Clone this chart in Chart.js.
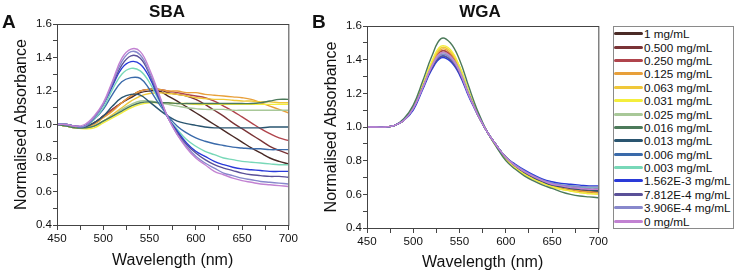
<!DOCTYPE html>
<html>
<head>
<meta charset="utf-8">
<script src="https://cdn.jsdelivr.net/npm/chart.js@4.4.0/dist/chart.umd.min.js"></script>
<style>
  html, body { margin: 0; padding: 0; background: #fff; }
  body { width: 734px; height: 274px; position: relative; overflow: hidden;
         font-family: "Liberation Sans", Arial, sans-serif; color: #111; }
  canvas { position: absolute; top: 0; }
  #cvA { left: 0; }
  #cvB { left: 300px; }
  .lbl { position: absolute; font-weight: bold; white-space: nowrap; line-height: 1; }
  .panel { font-size: 19px; top: 12px; }
  .ttl { font-size: 17px; top: 3px; transform: translateX(-50%); }
  #legend { position: absolute; left: 613px; top: 26px; width: 119px; height: 201px;
            border: 1px solid #8a8a8a; }
  .row { position: absolute; left: 0; height: 13.4px; display: flex; align-items: center; }
  .row i { display: block; width: 29px; height: 3px; border-radius: 1.5px; }
  .row span { font-size: 11.7px; margin-left: 1px; white-space: nowrap; }
</style>
</head>
<body>
<canvas id="cvA" width="300" height="274"></canvas>
<canvas id="cvB" width="310" height="274"></canvas>
<div class="lbl panel" style="left:2px">A</div>
<div class="lbl panel" style="left:312px">B</div>
<div class="lbl ttl" style="left:167px">SBA</div>
<div class="lbl ttl" style="left:480px">WGA</div>
<div id="legend"></div>

<script>

const wavelengths = [450, 460, 470, 480, 490, 500, 510, 520, 530, 540, 550, 560, 570,
                     580, 590, 600, 610, 620, 630, 640, 650, 660, 670, 680, 690, 700];

const concentrations = ["1 mg/mL", "0.500 mg/mL", "0.250 mg/mL", "0.125 mg/mL", "0.063 mg/mL",
  "0.031 mg/mL", "0.025 mg/mL", "0.016 mg/mL", "0.013 mg/mL", "0.006 mg/mL", "0.003 mg/mL",
  "1.562E-3 mg/mL", "7.812E-4 mg/mL", "3.906E-4 mg/mL", "0 mg/mL"];

const colors = ["#4a2a26", "#7a3336", "#b0444c", "#e8a03a", "#f0c83a", "#f4ee3c", "#a8c898",
  "#4c7a5a", "#2a5570", "#3a6aaa", "#78d8b8", "#2a3ad8", "#5a5098", "#8888cc", "#c282d2"];

// SBA: una riga per concentrazione, stesso ordine della legenda
const sbaValues = [
  [1.00,0.99,0.985,0.985,1.01,1.05,1.09,1.13,1.16,1.19,1.20,1.20,1.17,1.14,1.105,1.07,1.035,1.00,0.965,0.93,0.895,0.86,0.83,0.80,0.78,0.765],
  [1.00,0.99,0.985,0.985,1.01,1.05,1.09,1.13,1.17,1.20,1.21,1.21,1.19,1.18,1.17,1.15,1.12,1.085,1.05,1.01,0.975,0.94,0.905,0.87,0.845,0.825],
  [1.00,0.99,0.985,0.985,1.01,1.05,1.09,1.13,1.17,1.20,1.21,1.21,1.20,1.19,1.18,1.17,1.16,1.14,1.11,1.08,1.045,1.01,0.975,0.945,0.92,0.905],
  [1.00,0.99,0.98,0.98,1.00,1.04,1.08,1.13,1.17,1.20,1.21,1.21,1.20,1.20,1.19,1.19,1.18,1.175,1.17,1.165,1.16,1.15,1.13,1.11,1.09,1.07],
  [1.00,0.99,0.98,0.98,0.99,1.02,1.06,1.10,1.14,1.17,1.185,1.19,1.185,1.18,1.17,1.16,1.155,1.15,1.15,1.145,1.14,1.14,1.135,1.135,1.13,1.13],
  [1.00,0.99,0.98,0.975,0.98,1.01,1.04,1.07,1.10,1.12,1.13,1.13,1.13,1.125,1.125,1.12,1.12,1.12,1.12,1.12,1.12,1.12,1.12,1.12,1.12,1.12],
  [1.00,0.99,0.98,0.98,0.99,1.02,1.05,1.09,1.12,1.14,1.14,1.13,1.12,1.11,1.10,1.095,1.09,1.09,1.09,1.085,1.085,1.085,1.085,1.085,1.085,1.085],
  [1.00,0.99,0.98,0.98,0.99,1.02,1.05,1.08,1.11,1.13,1.135,1.13,1.13,1.125,1.125,1.125,1.125,1.125,1.125,1.125,1.125,1.125,1.13,1.14,1.15,1.15],
  [1.00,1.00,0.99,0.985,1.01,1.05,1.11,1.16,1.18,1.175,1.135,1.09,1.05,1.02,1.005,0.995,0.985,0.98,0.98,0.98,0.98,0.98,0.98,0.985,0.985,0.985],
  [1.00,1.00,0.99,0.99,1.03,1.09,1.18,1.255,1.28,1.275,1.21,1.125,1.05,0.99,0.95,0.92,0.90,0.885,0.875,0.865,0.86,0.855,0.855,0.85,0.85,0.85],
  [1.00,1.00,0.99,0.99,1.03,1.10,1.21,1.30,1.335,1.32,1.25,1.145,1.04,0.97,0.91,0.87,0.84,0.82,0.80,0.79,0.78,0.775,0.77,0.765,0.76,0.76],
  [1.00,1.00,0.99,0.99,1.04,1.12,1.23,1.335,1.375,1.36,1.28,1.155,1.04,0.96,0.89,0.84,0.81,0.78,0.76,0.745,0.735,0.73,0.725,0.72,0.72,0.72],
  [1.00,1.00,0.99,0.99,1.04,1.12,1.24,1.355,1.41,1.395,1.30,1.165,1.04,0.95,0.88,0.83,0.79,0.76,0.74,0.725,0.71,0.70,0.695,0.69,0.69,0.685],
  [1.00,1.00,0.99,0.99,1.04,1.12,1.25,1.375,1.435,1.415,1.31,1.175,1.04,0.94,0.87,0.81,0.77,0.74,0.71,0.695,0.68,0.67,0.66,0.655,0.65,0.645],
  [1.00,1.00,0.99,1.00,1.05,1.13,1.26,1.395,1.45,1.435,1.33,1.185,1.04,0.94,0.86,0.80,0.76,0.72,0.70,0.68,0.665,0.655,0.645,0.64,0.635,0.63],
];

// WGA: curve quasi sovrapposte
const wgaValues = [
  [1.00,1.00,1.00,1.01,1.04,1.11,1.23,1.36,1.44,1.42,1.33,1.19,1.07,0.97,0.89,0.82,0.77,0.73,0.70,0.675,0.655,0.64,0.63,0.62,0.615,0.61],
  [1.00,1.00,1.00,1.01,1.04,1.11,1.23,1.36,1.45,1.43,1.34,1.20,1.07,0.97,0.89,0.82,0.77,0.73,0.70,0.675,0.655,0.64,0.63,0.625,0.62,0.62],
  [1.00,1.00,1.00,1.01,1.04,1.11,1.23,1.36,1.45,1.43,1.34,1.20,1.07,0.97,0.89,0.82,0.77,0.73,0.70,0.675,0.655,0.64,0.63,0.62,0.615,0.61],
  [1.00,1.00,1.00,1.01,1.04,1.11,1.24,1.37,1.46,1.44,1.35,1.20,1.07,0.97,0.89,0.82,0.77,0.73,0.70,0.675,0.655,0.64,0.63,0.62,0.615,0.61],
  [1.00,1.00,1.00,1.01,1.04,1.11,1.24,1.38,1.47,1.45,1.36,1.21,1.08,0.97,0.89,0.81,0.76,0.72,0.69,0.665,0.645,0.63,0.62,0.61,0.605,0.60],
  [1.00,1.00,1.00,1.01,1.04,1.12,1.25,1.39,1.48,1.46,1.36,1.21,1.08,0.97,0.88,0.81,0.76,0.72,0.69,0.665,0.645,0.63,0.62,0.61,0.605,0.60],
  [1.00,1.00,1.00,1.01,1.04,1.11,1.23,1.36,1.44,1.42,1.34,1.20,1.07,0.97,0.89,0.82,0.77,0.735,0.705,0.68,0.66,0.65,0.64,0.635,0.63,0.63],
  [1.00,1.00,1.00,1.01,1.05,1.13,1.27,1.42,1.525,1.50,1.40,1.24,1.09,0.97,0.88,0.80,0.75,0.71,0.68,0.655,0.635,0.615,0.60,0.59,0.585,0.58],
  [1.00,1.00,1.00,1.01,1.04,1.11,1.23,1.35,1.42,1.40,1.32,1.19,1.07,0.97,0.89,0.82,0.77,0.73,0.70,0.675,0.655,0.645,0.635,0.63,0.625,0.62],
  [1.00,1.00,1.00,1.01,1.04,1.11,1.23,1.35,1.42,1.40,1.32,1.19,1.07,0.97,0.89,0.82,0.775,0.74,0.71,0.685,0.665,0.655,0.65,0.645,0.64,0.64],
  [1.00,1.00,1.00,1.01,1.04,1.11,1.23,1.36,1.43,1.41,1.32,1.19,1.07,0.97,0.89,0.82,0.775,0.74,0.71,0.685,0.665,0.655,0.65,0.645,0.64,0.64],
  [1.00,1.00,1.00,1.01,1.04,1.10,1.22,1.34,1.41,1.39,1.31,1.18,1.07,0.97,0.89,0.82,0.78,0.745,0.715,0.69,0.675,0.665,0.66,0.655,0.65,0.65],
  [1.00,1.00,1.00,1.01,1.04,1.11,1.23,1.35,1.42,1.40,1.32,1.19,1.07,0.97,0.89,0.82,0.77,0.735,0.705,0.68,0.66,0.65,0.64,0.635,0.63,0.63],
  [1.00,1.00,1.00,1.01,1.04,1.11,1.23,1.36,1.43,1.41,1.33,1.19,1.07,0.97,0.89,0.82,0.775,0.74,0.71,0.685,0.665,0.655,0.65,0.645,0.645,0.645],
  [1.00,1.00,1.00,1.01,1.04,1.11,1.23,1.36,1.44,1.42,1.33,1.19,1.07,0.97,0.89,0.82,0.77,0.735,0.705,0.68,0.66,0.65,0.64,0.635,0.63,0.63],
];

const yTicks = [0.4, 0.6, 0.8, 1.0, 1.2, 1.4, 1.6];
const xTicks = [450, 500, 550, 600, 650, 700];

// Stile comune
const FONT = "'Liberation Sans', Arial, sans-serif";
const AXIS = "#444";

// cornice chiusa attorno all'area del grafico
const cornice = {
  id: "cornice",
  afterDraw(chart) {
    const { ctx, chartArea: a } = chart;
    ctx.save();
    ctx.strokeStyle = AXIS;
    ctx.lineWidth = 1;
    ctx.strokeRect(a.left + 0.5, a.top + 0.5, a.right - a.left, a.bottom - a.top);
    ctx.restore();
  },
};

function disegnaPannello(canvasId, values, geo) {
  const datasets = values.map((row, i) => ({
    label: concentrations[i],
    data: wavelengths.map((w, k) => ({ x: w, y: row[k] })),
    borderColor: colors[i],
    borderWidth: 1.4,
    pointRadius: 0,
    tension: 0.4,
    order: -i,
  }));

  return new Chart(document.getElementById(canvasId).getContext("2d"), {
    type: "line",
    data: { datasets },
    plugins: [cornice],
    options: {
      responsive: false,
      animation: false,
      layout: { padding: { top: geo.top, right: geo.right, left: 0, bottom: 0 } },
      plugins: { legend: { display: false }, tooltip: { enabled: false } },
      scales: {
        x: {
          type: "linear",
          min: 450,
          max: 700,
          afterBuildTicks: (s) => { s.ticks = [450,475,500,525,550,575,600,625,650,675,700].map((v) => ({ value: v })); },
          afterFit: (s) => { s.height = geo.xh; },
          ticks: {
            autoSkip: false,
            maxRotation: 0,
            padding: 2,
            color: "#111",
            font: { family: FONT, size: 11.6 },
            callback: (v) => (xTicks.includes(v) ? String(v) : ""),
          },
          grid: { drawOnChartArea: false, tickLength: 5, color: AXIS },
          border: { color: AXIS, width: 1 },
          title: { display: true, text: "Wavelength (nm)", color: "#111",
                   font: { family: FONT, size: 16 }, padding: { top: 0, bottom: geo.xtp } },
        },
        y: {
          min: 0.4,
          max: 1.6,
          afterBuildTicks: (s) => { s.ticks = [0.4,0.5,0.6,0.7,0.8,0.9,1.0,1.1,1.2,1.3,1.4,1.5,1.6].map((v) => ({ value: v })); },
          afterFit: (s) => { s.width = geo.yw; },
          ticks: {
            autoSkip: false,
            padding: 1,
            color: "#111",
            font: { family: FONT, size: 11.6 },
            callback: (v) => (yTicks.some((t) => Math.abs(t - v) < 1e-6) ? v.toFixed(1) : ""),
          },
          grid: { drawOnChartArea: false, tickLength: 4, color: AXIS },
          border: { color: AXIS, width: 1 },
          title: { display: true, text: "Normalised Absorbance", color: "#111",
                   font: { family: FONT, size: 16 }, padding: { top: geo.ytp, bottom: 0 } },
        },
      },
    },
  });
}

disegnaPannello("cvA", sbaValues, { top: 24, right: 10.5, xh: 49, yw: 57, xtp: 3.5, ytp: 11.5 });
disegnaPannello("cvB", wgaValues, { top: 26, right: 10, xh: 46, yw: 67, xtp: 1.5, ytp: 21.5 });

// Legenda HTML
const legend = document.getElementById("legend");
concentrations.forEach((name, i) => {
  const row = document.createElement("div");
  row.className = "row";
  row.style.top = (i * 13.39) + "px";
  row.innerHTML = `<i style="background:${colors[i]}"></i><span>${name}</span>`;
  legend.appendChild(row);
});
</script>
</body>
</html>
